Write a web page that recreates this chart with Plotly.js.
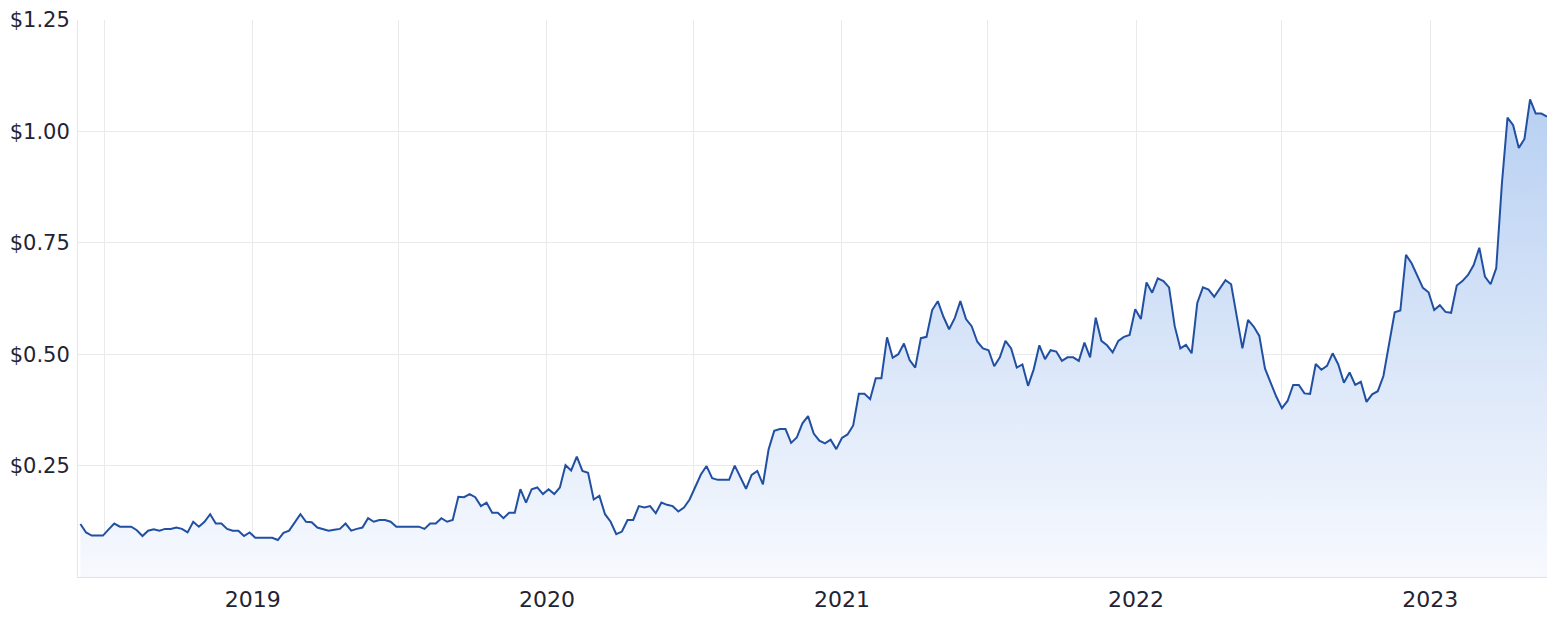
<!DOCTYPE html>
<html>
<head>
<meta charset="utf-8">
<script src="https://cdn.plot.ly/plotly-3.0.1.min.js"></script>
<style>
  html, body { margin: 0; padding: 0; background: #ffffff; }
  #chart { width: 1564px; height: 617px; }
</style>
</head>
<body>
<div id="chart"></div>
<script>
// Weekly closing dates
const weekDates = [
  '2018-06-01','2018-06-08','2018-06-15','2018-06-22','2018-06-29','2018-07-06','2018-07-13','2018-07-20','2018-07-27','2018-08-03',
  '2018-08-10','2018-08-17','2018-08-24','2018-08-31','2018-09-07','2018-09-14','2018-09-21','2018-09-28','2018-10-05','2018-10-12',
  '2018-10-19','2018-10-26','2018-11-02','2018-11-09','2018-11-16','2018-11-23','2018-11-30','2018-12-07','2018-12-14','2018-12-21',
  '2018-12-28',
  '2019-01-04','2019-01-11','2019-01-18','2019-01-25','2019-02-01','2019-02-08','2019-02-15','2019-02-22','2019-03-01','2019-03-08',
  '2019-03-15','2019-03-22','2019-03-29','2019-04-05','2019-04-12','2019-04-19','2019-04-26','2019-05-03','2019-05-10','2019-05-17',
  '2019-05-24','2019-05-31','2019-06-07','2019-06-14','2019-06-21','2019-06-28','2019-07-05','2019-07-12','2019-07-19','2019-07-26',
  '2019-08-02','2019-08-09','2019-08-16','2019-08-23','2019-08-30','2019-09-06','2019-09-13','2019-09-20','2019-09-27','2019-10-04',
  '2019-10-11','2019-10-18','2019-10-25','2019-11-01','2019-11-08','2019-11-15','2019-11-22','2019-11-29','2019-12-06','2019-12-13',
  '2019-12-20','2019-12-27',
  '2020-01-03','2020-01-10','2020-01-17','2020-01-24','2020-01-31','2020-02-07','2020-02-14','2020-02-21','2020-02-28','2020-03-06',
  '2020-03-13','2020-03-20','2020-03-27','2020-04-03','2020-04-10','2020-04-17','2020-04-24','2020-05-01','2020-05-08','2020-05-15',
  '2020-05-22','2020-05-29','2020-06-05','2020-06-12','2020-06-19','2020-06-26','2020-07-03','2020-07-10','2020-07-17','2020-07-24',
  '2020-07-31','2020-08-07','2020-08-14','2020-08-21','2020-08-28','2020-09-04','2020-09-11','2020-09-18','2020-09-25','2020-10-02',
  '2020-10-09','2020-10-16','2020-10-23','2020-10-30','2020-11-06','2020-11-13','2020-11-20','2020-11-27','2020-12-04','2020-12-11',
  '2020-12-18','2020-12-25',
  '2021-01-01','2021-01-08','2021-01-15','2021-01-22','2021-01-29','2021-02-05','2021-02-12','2021-02-19','2021-02-26','2021-03-05',
  '2021-03-12','2021-03-19','2021-03-26','2021-04-02','2021-04-09','2021-04-16','2021-04-23','2021-04-30','2021-05-07','2021-05-14',
  '2021-05-21','2021-05-28','2021-06-04','2021-06-11','2021-06-18','2021-06-25','2021-07-02','2021-07-09','2021-07-16','2021-07-23',
  '2021-07-30','2021-08-06','2021-08-13','2021-08-20','2021-08-27','2021-09-03','2021-09-10','2021-09-17','2021-09-24','2021-10-01',
  '2021-10-08','2021-10-15','2021-10-22','2021-10-29','2021-11-05','2021-11-12','2021-11-19','2021-11-26','2021-12-03','2021-12-10',
  '2021-12-17','2021-12-24','2021-12-31',
  '2022-01-07','2022-01-14','2022-01-21','2022-01-28','2022-02-04','2022-02-11','2022-02-18','2022-02-25','2022-03-04','2022-03-11',
  '2022-03-18','2022-03-25','2022-04-01','2022-04-08','2022-04-15','2022-04-22','2022-04-29','2022-05-06','2022-05-13','2022-05-20',
  '2022-05-27','2022-06-03','2022-06-10','2022-06-17','2022-06-24','2022-07-01','2022-07-08','2022-07-15','2022-07-22','2022-07-29',
  '2022-08-05','2022-08-12','2022-08-19','2022-08-26','2022-09-02','2022-09-09','2022-09-16','2022-09-23','2022-09-30','2022-10-07',
  '2022-10-14','2022-10-21','2022-10-28','2022-11-04','2022-11-11','2022-11-18','2022-11-25','2022-12-02','2022-12-09','2022-12-16',
  '2022-12-23','2022-12-30',
  '2023-01-06','2023-01-13','2023-01-20','2023-01-27','2023-02-03','2023-02-10','2023-02-17','2023-02-24','2023-03-03','2023-03-10',
  '2023-03-17','2023-03-24','2023-03-31','2023-04-07','2023-04-14','2023-04-21','2023-04-28','2023-05-05','2023-05-12','2023-05-19',
  '2023-05-26'
];

// Weekly share price (AUD)
const sharePrice = [
  0.119,0.100,0.093,0.093,0.093,0.107,0.120,0.113,0.113,0.113,
  0.105,0.092,0.104,0.107,0.104,0.108,0.108,0.111,0.108,0.100,
  0.124,0.113,0.124,0.141,0.120,0.120,0.108,0.104,0.104,0.092,
  0.100,0.088,0.088,0.088,0.088,0.083,0.099,0.104,0.122,0.141,
  0.124,0.123,0.111,0.108,0.104,0.106,0.108,0.120,0.104,0.108,
  0.111,0.132,0.124,0.128,0.128,0.124,0.113,0.113,0.113,0.113,
  0.113,0.108,0.120,0.120,0.132,0.124,0.128,0.180,0.179,0.186,
  0.179,0.159,0.167,0.144,0.144,0.132,0.144,0.144,0.197,0.167,
  0.197,0.201,0.186,0.197,0.186,0.201,0.251,0.239,0.270,0.238,
  0.234,0.174,0.182,0.141,0.124,0.096,0.102,0.128,0.128,0.159,
  0.156,0.159,0.143,0.167,0.162,0.159,0.147,0.156,0.174,0.202,
  0.230,0.249,0.222,0.218,0.218,0.218,0.250,0.225,0.198,0.229,
  0.238,0.208,0.286,0.328,0.332,0.332,0.301,0.313,0.345,0.361,
  0.322,0.306,0.300,0.308,0.287,0.312,0.320,0.340,0.411,0.411,
  0.399,0.446,0.446,0.538,0.492,0.500,0.524,0.487,0.470,0.536,
  0.539,0.599,0.619,0.584,0.556,0.581,0.619,0.579,0.563,0.528,
  0.513,0.509,0.473,0.493,0.530,0.513,0.470,0.477,0.429,0.466,
  0.520,0.489,0.509,0.506,0.485,0.493,0.493,0.485,0.526,0.493,
  0.582,0.530,0.520,0.504,0.530,0.539,0.543,0.601,0.579,0.661,
  0.638,0.670,0.664,0.650,0.563,0.513,0.521,0.502,0.615,0.650,
  0.645,0.629,0.648,0.666,0.657,0.588,0.513,0.577,0.562,0.541,
  0.468,0.436,0.405,0.379,0.395,0.431,0.431,0.412,0.411,0.478,
  0.465,0.474,0.502,0.477,0.436,0.459,0.431,0.438,0.393,0.410,
  0.417,0.451,0.522,0.594,0.598,0.723,0.704,0.676,0.649,0.639,
  0.599,0.610,0.595,0.593,0.654,0.664,0.678,0.700,0.739,0.674,
  0.657,0.693,0.882,1.031,1.014,0.963,0.983,1.072,1.040,1.040,
  1.033
];

// Axis ticks
const xTickVals = ['2018-07-01','2019-01-01','2019-07-01','2020-01-01','2020-07-01','2021-01-01','2021-07-01','2022-01-01','2022-07-01','2023-01-01'];
const xTickText = ['','2019','','2020','','2021','','2022','','2023'];
const yTickVals = [0.25, 0.50, 0.75, 1.00, 1.25];
const yTickText = ['$0.25','$0.50','$0.75','$1.00','$1.25'];

const labelFont = '"DejaVu Sans", "Noto Sans", sans-serif';

const trace = {
  type: 'scatter',
  mode: 'lines',
  x: weekDates,
  y: sharePrice,
  line: { color: '#2150a2', width: 2 },
  fill: 'tozeroy',
  fillcolor: 'rgba(200,218,245,0.6)',
  fillgradient: {
    type: 'vertical',
    start: 0,
    stop: 1.07,
    colorscale: [[0, 'rgb(247,249,254)'], [1, 'rgb(184,208,242)']]
  },
  hoverinfo: 'skip'
};

const layout = {
  width: 1564,
  height: 617,
  margin: { l: 78, r: 17, t: 20, b: 40, pad: 0 },
  paper_bgcolor: '#ffffff',
  plot_bgcolor: '#ffffff',
  showlegend: false,
  font: { family: labelFont, size: 21, color: '#1f2433' },
  xaxis: {
    type: 'date',
    range: ['2018-05-29', '2023-05-26'],
    tickmode: 'array',
    tickvals: xTickVals,
    ticktext: xTickText,
    showgrid: true,
    gridcolor: '#eaeaea',
    gridwidth: 1,
    showline: true,
    linecolor: '#e2e2e2',
    linewidth: 1,
    ticks: '',
    ticklabelstandoff: 3,
    zeroline: false,
    fixedrange: true,
    tickfont: { family: labelFont, size: 22, color: '#1f2433' }
  },
  yaxis: {
    range: [0, 1.25],
    tickmode: 'array',
    tickvals: yTickVals,
    ticktext: yTickText,
    showgrid: true,
    gridcolor: '#eaeaea',
    gridwidth: 1,
    showline: true,
    linecolor: '#e6e6e6',
    linewidth: 1,
    ticks: '',
    ticklabelstandoff: 3,
    zeroline: false,
    fixedrange: true,
    tickfont: { family: labelFont, size: 21, color: '#1f2433' }
  }
};

Plotly.newPlot('chart', [trace], layout, { displayModeBar: false, staticPlot: true });
</script>
</body>
</html>
